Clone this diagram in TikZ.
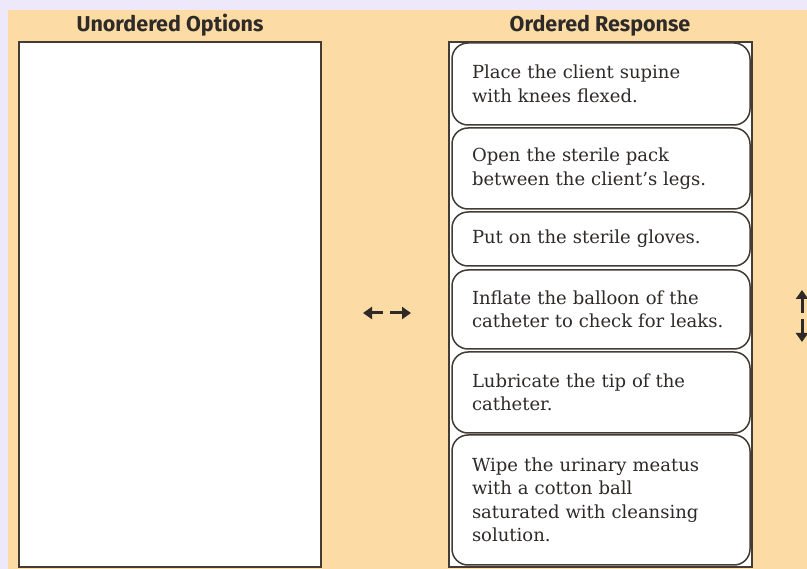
\documentclass[tikz,border=0pt]{standalone}
\usepackage{fontspec}
\setsansfont{Fira Sans}
\setmainfont{DejaVu Serif}[WordSpace=0.8]
\usetikzlibrary{arrows.meta, positioning}
\definecolor{lavbg}{RGB}{237,233,250}
\definecolor{orangebg}{RGB}{253,219,164}
\definecolor{edge}{RGB}{66,60,52}
\definecolor{textc}{RGB}{45,42,40}
\tikzstyle{item}=[draw=edge, line width=1.5pt, fill=white, rounded corners=16pt, minimum width=298pt, inner xsep=20pt, inner ysep=0pt, text width=258pt, align=left, font=\fontsize{18}{23.5}\selectfont, text=textc]
\tikzstyle{header}=[font=\sffamily\bfseries\fontsize{21.5}{24}\selectfont, text=textc, anchor=base]
\tikzstyle{panel}=[draw=edge, line width=2pt, fill=white]
\tikzstyle{mover}=[line width=3pt, draw=textc, -{Triangle[width=12pt,length=9pt]}]
\newcommand{\orderitem}{\node[item]}
\begin{document}
\begin{tikzpicture}[x=1pt, y=-1pt]
\useasboundingbox (0,0) rectangle (807,569);
\fill[lavbg] (0,0) rectangle (807,569);
\fill[orangebg] (8,10) rectangle (807,569);
% the two columns
\node[header] (hleft) at (170,32) {Unordered Options};
\node[header] (hright) at (600,32) {Ordered Response};
\draw[panel] (19,42) rectangle (321,567);
\draw[panel] (449,42) rectangle (752,567);
% ordered steps: top / bottom / text
\foreach \t/\b/\txt [count=\i] in {43/125/{Place the client supine\\with knees flexed.},
	128/209/{Open the sterile pack\\between the client's legs.},
	212/266/{Put on the sterile gloves.},
	270/349/{Inflate the balloon of the\\catheter to check for leaks.},
	352/433/{Lubricate the tip of the\\catheter.},
	435/565/{Wipe the urinary meatus\\with a cotton ball\\saturated with cleansing\\solution.}}{
	\pgfmathsetmacro{\h}{\b-\t}
	\pgfmathsetmacro{\c}{(\b+\t)/2}
	\orderitem[minimum height=\h pt] (s\i) at (601,\c) {\txt};
	}
% move arrows
\coordinate (la) at (363,313);
\coordinate (lb) at (383,313);
\coordinate (ra) at (390,313);
\coordinate (rb) at (411,313);
\draw[mover] (lb) -- (la);
\draw[mover] (ra) -- (rb);
\coordinate (ua) at (802,313);
\coordinate (ub) at (802,290);
\coordinate (da) at (802,319);
\coordinate (db) at (802,342);
\draw[mover] (ua) -- (ub);
\draw[mover] (da) -- (db);
\end{tikzpicture}
\end{document}
